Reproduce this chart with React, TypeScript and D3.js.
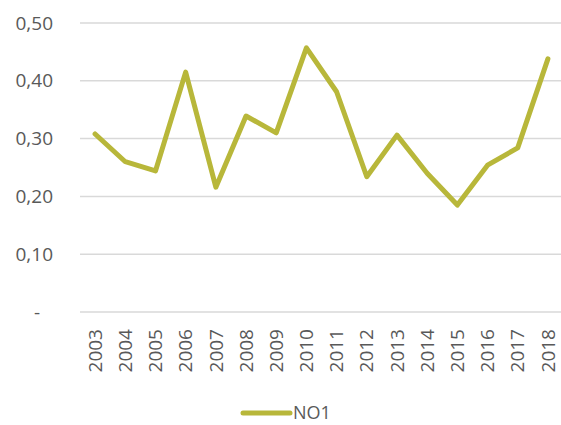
import React from "react";
import * as d3 from "d3";

const years = ["2003", "2004", "2005", "2006", "2007", "2008", "2009", "2010", "2011", "2012", "2013", "2014", "2015", "2016", "2017", "2018"];
const no1 = [0.308, 0.26, 0.244, 0.415, 0.216, 0.339, 0.31, 0.457, 0.381, 0.234, 0.306, 0.24, 0.185, 0.254, 0.284, 0.438];
const yTicks = [0, 0.1, 0.2, 0.3, 0.4, 0.5];
const seriesName = "NO1";

const W = 561;
const H = 425;
const margin = { top: 23, right: 0, bottom: 113, left: 80 };
const color = "#b8b73a";
const textColor = "#595959";
const font = "'Open Sans', 'Liberation Sans', sans-serif";

const fmt = (v: number) => (v === 0 ? "-" : v.toFixed(2).replace(".", ","));

export default function App() {
  const x = d3.scaleBand().domain(years).range([margin.left, W - margin.right + 2]);
  const y = d3.scaleLinear().domain([0, 0.5]).range([H - margin.bottom, margin.top]);
  const line = d3
    .line<number>()
    .x((_, i) => (x(years[i]) ?? 0) + x.bandwidth() / 2)
    .y((d) => y(d));

  return (
    <svg width={W} height={H} style={{ position: "absolute", left: 0, top: 0, background: "#fff" }} fontFamily={font}>
      {/* grid + y labels */}
      {yTicks.map((t) => (
        <g key={t}>
          <line x1={margin.left} x2={W} y1={y(t)} y2={y(t)} stroke="#d9d9d9" strokeWidth={1.5} />
          <text x={t === 0 ? 40 : 53} y={y(t)} dy="0.35em" textAnchor="end" fontSize={19} fill={textColor}>
            {fmt(t)}
          </text>
        </g>
      ))}
      {/* x labels */}
      {years.map((yr) => {
        const cx = (x(yr) ?? 0) + x.bandwidth() / 2;
        const ty = y(0) + 17;
        return (
          <text
            key={yr}
            transform={`translate(${cx},${ty}) rotate(-90)`}
            textAnchor="end"
            dy="0.35em"
            fontSize={19}
            fill={textColor}
          >
            {yr}
          </text>
        );
      })}
      <path d={line(no1) ?? ""} fill="none" stroke={color} strokeWidth={5} strokeLinejoin="round" strokeLinecap="round" />
      {/* legend */}
      <line x1={243} x2={290} y1={413} y2={413} stroke={color} strokeWidth={5} strokeLinecap="round" />
      <text x={293} y={413} dy="0.35em" fontSize={18} fill={textColor}>
        {seriesName}
      </text>
    </svg>
  );
}
